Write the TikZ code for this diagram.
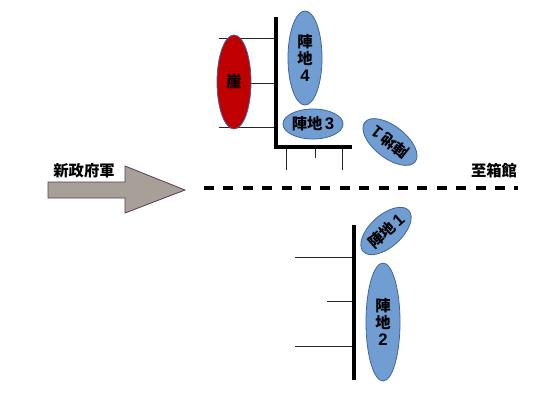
\documentclass[tikz,border=0pt]{standalone}
\usepackage{fontspec}
\setmainfont{Noto Sans CJK JP}
\newfontfamily\numfont{Liberation Sans}
\usetikzlibrary{shapes.geometric}

\definecolor{jinblue}{RGB}{112,157,210}
\definecolor{jinedge}{RGB}{65,100,160}
\definecolor{gakered}{RGB}{192,0,0}
\definecolor{armygray}{RGB}{166,160,153}
\definecolor{armyedge}{RGB}{90,58,80}

\newcommand{\num}[1]{{\numfont\bfseries\fontsize{12.5}{12.5}\selectfont #1}}

\tikzset{
    jin/.style={ellipse, draw=jinedge, fill=jinblue, line width=0.6pt, inner sep=0pt,
        font=\fontsize{11.5}{12.5}\selectfont\bfseries, align=center},
    wall/.style={line width=3pt},
    fence/.style={line width=0.7pt, black!85}
}

\begin{document}
\begin{tikzpicture}[x=0.75pt,y=-0.75pt]
        \useasboundingbox (0,0) rectangle (555,404);

        % upper position
        \draw[fence] (219,38) -- (276,38);
        \draw[fence] (219,83) -- (276,83);
        \draw[fence] (219,127) -- (276,127);
        \draw[fence] (286,147) -- (286,170);
        \draw[fence] (315,147) -- (315,158);
        \draw[fence] (342,147) -- (342,170);
        \draw[wall] (276,17) -- (276,147) -- (352,147);

        \node[jin, fill=gakered, minimum width=25.5pt, minimum height=70.5pt] (gake) at (234,82) {崖};
        \node[jin, minimum width=25.5pt, minimum height=70.5pt] (jin4) at (305,58) {陣\\地\\\num{4}};
        \node[jin, minimum width=45pt, minimum height=22.5pt] (jin3) at (313,124) {陣地\,\num{3}};
        \node[jin, minimum width=48pt, minimum height=24pt, rotate=142] (jin1b) at (390,142) {陣地\,\num{1}};

        % road
        \draw[line width=3pt, dash pattern=on 7.5pt off 7.05pt] (204,188) -- (518,188);
        \node[font=\fontsize{11.5}{12.5}\selectfont\bfseries] (hako) at (494,171) {至箱館};

        % army
        \draw[fill=armygray, draw=armyedge, line width=0.6pt]
            (48,182) -- (125,182) -- (125,166) -- (185,190) -- (125,213) -- (125,198) -- (48,198) -- cycle;
        \node[font=\fontsize{11.5}{12.5}\selectfont\bfseries] (gun) at (84,171) {新政府軍};

        % lower position
        \draw[fence] (295,257) -- (354,257);
        \draw[fence] (327,301) -- (354,301);
        \draw[fence] (295,346) -- (354,346);
        \draw[wall] (354,225) -- (354,380);

        \node[jin, minimum width=25.5pt, minimum height=88.5pt] (jin2) at (383,322) {陣\\地\\\num{2}};
        \node[jin, minimum width=46pt, minimum height=24pt, rotate=42] (jin1) at (386,231) {陣地\,\num{1}};
    \end{tikzpicture}
\end{document}
